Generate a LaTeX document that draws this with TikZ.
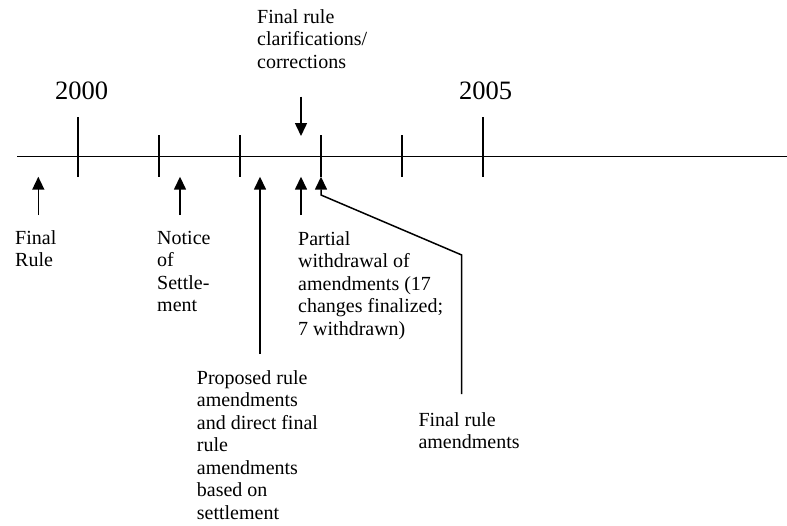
\documentclass[tikz,border=0pt]{standalone}
\usepackage{fontspec}
\setmainfont{Liberation Serif}
\usetikzlibrary{arrows.meta}
\newcommand{\lbl}[1]{\begin{tabular}[t]{@{}l@{}}#1\end{tabular}}
\begin{document}
\begin{tikzpicture}[x=1pt,y=-1pt,
  lab/.style={anchor=base west,inner sep=0pt,font=\fontsize{20}{22.5}\selectfont},
  yearlab/.style={anchor=base,inner sep=0pt,font=\fontsize{26.5}{30}\selectfont},
  axis/.style={line width=1.5pt},
  tick/.style={line width=1.7pt},
  evarrow/.style={line width=1.5pt,-{Triangle[length=13pt,width=12pt]}}]
\useasboundingbox (0,0) rectangle (787,525);
% timeline
\coordinate (L) at (17,156.7);
\coordinate (R) at (787,156.7);
\draw[axis] (L) -- (R);
% major ticks
\coordinate (t0a) at (78.3,117.3);  \coordinate (t0b) at (78.3,176.7);
\coordinate (t5a) at (482.7,117.3); \coordinate (t5b) at (482.7,176.7);
\draw[tick] (t0a) -- (t0b);
\draw[tick] (t5a) -- (t5b);
% minor ticks
\coordinate (t1a) at (159.3,135.3); \coordinate (t1b) at (159.3,176.7);
\coordinate (t2a) at (240,135.3);   \coordinate (t2b) at (240,176.7);
\coordinate (t3a) at (321,135.3);   \coordinate (t3b) at (321,176.7);
\coordinate (t4a) at (401.7,135.3); \coordinate (t4b) at (401.7,176.7);
\foreach \i in {1,2,3,4} \draw[tick] (t\i a) -- (t\i b);
% years
\node[yearlab] (y2000) at (81.5,99) {2000};
\node[yearlab] (y2005) at (485.5,99) {2005};
% labels
\node[lab] (finalrule) at (15,244.3) {\lbl{Final\\Rule}};
\node[lab] (notice) at (157,244.3) {\lbl{Notice\\of\\Settle-\\ment}};
\node[lab] (partial) at (298,245) {\lbl{Partial\\withdrawal of\\amendments (17\\changes finalized;\\7 withdrawn)}};
\node[lab] (proposed) at (196.7,384) {\lbl{Proposed rule\\amendments\\and direct final\\rule\\amendments\\based on\\settlement}};
\node[lab] (finalamend) at (418.3,426) {\lbl{Final rule\\amendments}};
\node[lab] (clarif) at (257,23) {\lbl{Final rule\\clarifications/\\corrections}};
% arrows
\coordinate (a1s) at (38.3,215);  \coordinate (a1t) at (38.3,176.7);
\coordinate (a2s) at (180,215);   \coordinate (a2t) at (180,176.7);
\coordinate (a3s) at (260,354);   \coordinate (a3t) at (260,176.7);
\coordinate (a4s) at (301,215);   \coordinate (a4t) at (301,176.7);
\coordinate (a5s) at (461.7,394); \coordinate (a5m) at (461.7,255);
\coordinate (a5k) at (321,195);   \coordinate (a5t) at (321,176.7);
\coordinate (dns) at (301,96.7);  \coordinate (dnt) at (301,136);
\draw[evarrow] (a1s) -- (a1t);
\draw[evarrow] (a2s) -- (a2t);
\draw[evarrow] (a3s) -- (a3t);
\draw[evarrow] (a4s) -- (a4t);
\draw[evarrow] (a5s) -- (a5m) -- (a5k) -- (a5t);
\draw[evarrow] (dns) -- (dnt);
\end{tikzpicture}
\end{document}
